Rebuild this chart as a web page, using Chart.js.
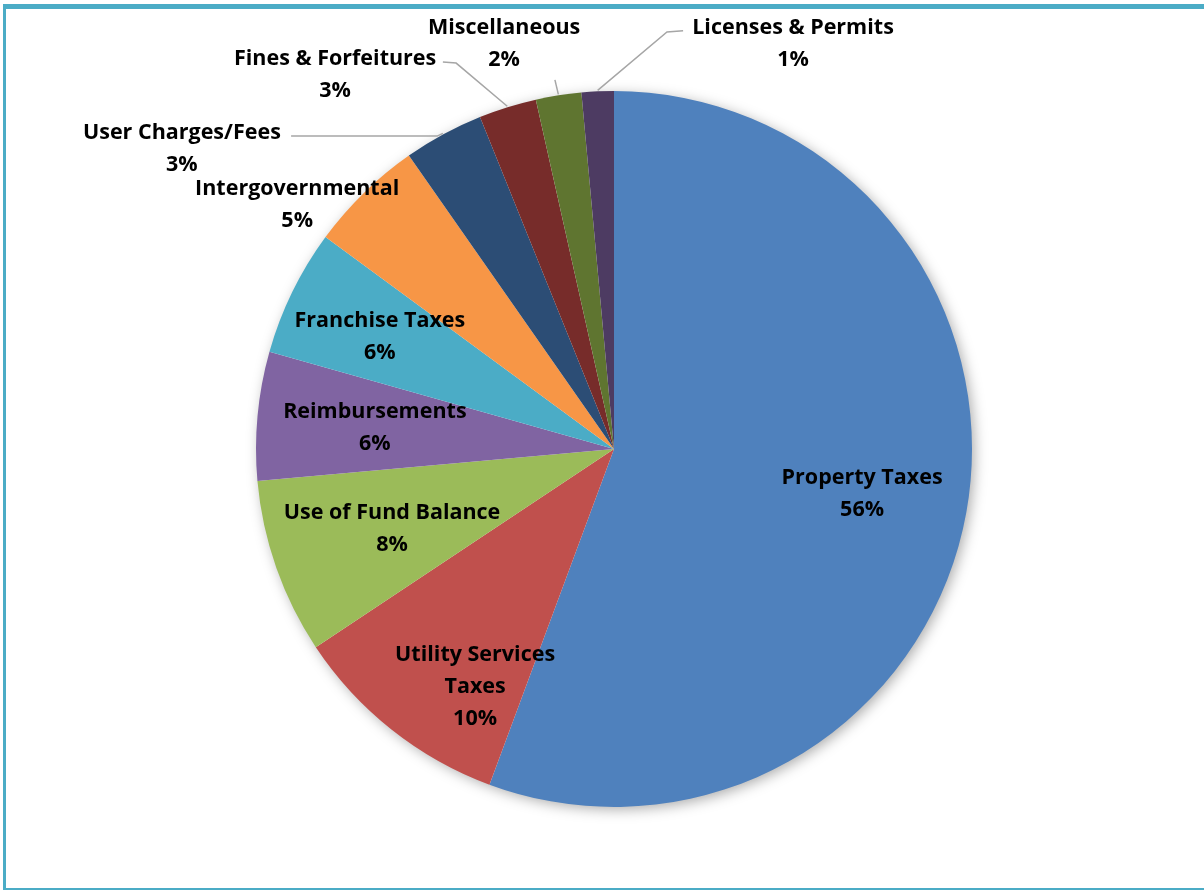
<!DOCTYPE html>
<html>
<head>
<meta charset="utf-8">
<script src="https://cdn.jsdelivr.net/npm/chart.js@4.4.1/dist/chart.umd.min.js"></script>
<style>
    html, body { margin: 0; padding: 0; background: #fff; }
    #wrap { position: relative; width: 1204px; height: 890px; overflow: hidden; }
    #frame {
        position: absolute; left: 3px; top: 4px; width: 1300px; height: 879px;
        border-top: 5px solid #4bacc6; border-left: 3px solid #4bacc6; border-bottom: 3px solid #4bacc6;
    }
    canvas { position: absolute; left: 0; top: 0; }
</style>
</head>
<body>
<div id="wrap">
    <div id="frame"></div>
    <canvas id="myChart" width="1204" height="890"></canvas>
</div>
<script>
// Revenue sources, clockwise from 12 o'clock
const categories = ['Property Taxes', 'Utility Services Taxes', 'Use of Fund Balance', 'Reimbursements',
    'Franchise Taxes', 'Intergovernmental', 'User Charges/Fees', 'Fines & Forfeitures',
    'Miscellaneous', 'Licenses & Permits'];
const shares = [55.6, 10.0, 7.9, 5.8, 5.7, 5.2, 3.6, 2.6, 2.05, 1.45];
const pctLabels = ['56%', '10%', '8%', '6%', '6%', '5%', '3%', '3%', '2%', '1%'];
const sliceColors = ['#4f81bd', '#c0504d', '#9bbb59', '#8064a2', '#4bacc6', '#f79646',
    '#2c4d75', '#772c2a', '#5f7530', '#4d3b62'];

// label block centres, in units of the pie radius from the pie centre
const labelPos = [[0.693, 0.126], [-0.388, 0.665], [-0.620, 0.223], [-0.668, -0.059], [-0.654, -0.313],
    [-0.885, -0.682], [-1.207, -0.838], [-0.779, -1.045], [-0.307, -1.131], [0.500, -1.131]];
const labelLines = [['Property Taxes'], ['Utility Services', 'Taxes'], ['Use of Fund Balance'], ['Reimbursements'],
    ['Franchise Taxes'], ['Intergovernmental'], ['User Charges/Fees'], ['Fines & Forfeitures'],
    ['Miscellaneous'], ['Licenses & Permits']];
// leader lines: knee and end points (radius units), drawn from the arc edge
const leaders = {
    6: [[-0.494, -0.874], [-0.902, -0.874]],
    7: [[-0.441, -1.078], [-0.478, -1.081]],
    8: [[-0.165, -1.031], [-0.165, -1.031]],
    9: [[0.148, -1.165], [0.193, -1.168]]
};

const pieShadow = {
    id: 'pieShadow',
    beforeDatasetsDraw(chart) {
        const arc = chart.getDatasetMeta(0).data[0];
        if (!arc) return;
        const ctx = chart.ctx;
        ctx.save();
        ctx.shadowColor = 'rgba(0,0,0,0.35)';
        ctx.shadowBlur = 14;
        ctx.shadowOffsetX = 3;
        ctx.shadowOffsetY = 3;
        ctx.fillStyle = '#ffffff';
        ctx.beginPath();
        ctx.arc(arc.x, arc.y, arc.outerRadius - 1, 0, Math.PI * 2);
        ctx.fill();
        ctx.restore();
    }
};

const sliceLabels = {
    id: 'sliceLabels',
    afterDatasetsDraw(chart) {
        const ctx = chart.ctx;
        const arcs = chart.getDatasetMeta(0).data;
        ctx.save();
        arcs.forEach((arc, i) => {
            const cx = arc.x, cy = arc.y, R = arc.outerRadius;
            if (leaders[i]) {
                const mid = (arc.startAngle + arc.endAngle) / 2;
                ctx.strokeStyle = '#a6a6a6';
                ctx.lineWidth = 1.5;
                ctx.beginPath();
                ctx.moveTo(cx + Math.cos(mid) * (R + 1), cy + Math.sin(mid) * (R + 1));
                leaders[i].forEach(p => ctx.lineTo(cx + p[0] * R, cy + p[1] * R));
                ctx.stroke();
            }
            const lines = labelLines[i].concat([pctLabels[i]]);
            const lh = 32;
            const x = cx + labelPos[i][0] * R;
            const y0 = cy + labelPos[i][1] * R - (lines.length - 1) * lh / 2;
            ctx.fillStyle = '#000';
            ctx.font = 'bold 21.5px "Open Sans"';
            ctx.textAlign = 'center';
            ctx.textBaseline = 'middle';
            lines.forEach((t, k) => ctx.fillText(t, x, y0 + k * lh));
        });
        ctx.restore();
    }
};

new Chart(document.getElementById('myChart').getContext('2d'), {
    type: 'pie',
    data: {
        labels: categories,
        datasets: [{
            data: shares,
            backgroundColor: sliceColors,
            borderWidth: 0,
            hoverOffset: 0
        }]
    },
    options: {
        responsive: false,
        animation: false,
        layout: { padding: { top: 91, bottom: 83, left: 256, right: 232 } },
        plugins: {
            legend: { display: false },
            tooltip: { enabled: false }
        }
    },
    plugins: [pieShadow, sliceLabels]
});
</script>
</body>
</html>
